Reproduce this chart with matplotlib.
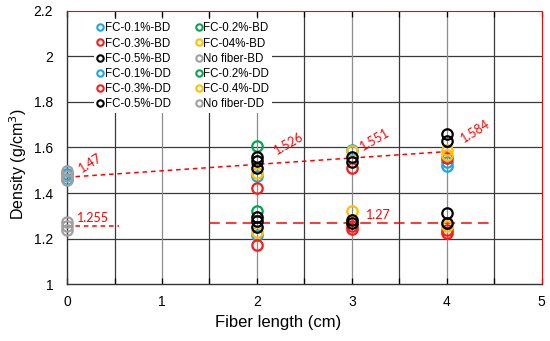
import numpy as np
import matplotlib.pyplot as plt
from matplotlib.lines import Line2D

# series: x positions (cm) and densities (g/cm3)
blue = '#1AA7E8'
green = '#00A651'
red = '#FF1A1A'
yellow = '#FFC000'
black = '#000000'
gray = '#A0A0A0'

# BD (upper group)
x_01_bd = [0, 0, 2, 3, 4, 4]
y_01_bd = [1.485, 1.46, 1.475, 1.59, 1.538, 1.519]
x_02_bd = [2]
y_02_bd = [1.605]
x_03_bd = [2, 3, 4]
y_03_bd = [1.424, 1.512, 1.552]
x_04_bd = [2, 3, 4, 4]
y_04_bd = [1.489, 1.584, 1.589, 1.567]
x_05_bd = [2, 2, 2, 3, 3, 4, 4]
y_05_bd = [1.557, 1.539, 1.508, 1.556, 1.536, 1.66, 1.627]
x_nf_bd = [0, 0, 0]
y_nf_bd = [1.495, 1.473, 1.455]

# DD (lower group)
x_01_dd = [2]
y_01_dd = [1.215]
x_02_dd = [2]
y_02_dd = [1.321]
x_03_dd = [2, 3, 3, 4, 4]
y_03_dd = [1.171, 1.24, 1.255, 1.237, 1.223]
x_04_dd = [2, 3, 4]
y_04_dd = [1.23, 1.32, 1.255]
x_05_dd = [2, 2, 2, 3, 3, 4, 4]
y_05_dd = [1.296, 1.275, 1.252, 1.281, 1.27, 1.314, 1.27]
x_nf_dd = [0, 0, 0]
y_nf_dd = [1.274, 1.255, 1.237]

# mean values shown on the chart
mean_x = [0, 2, 3, 4]
mean_bd = [1.47, 1.526, 1.551, 1.584]
nf_dd_mean = 1.255
fc_dd_mean = 1.27

fig = plt.figure(figsize=(5.5, 3.41), dpi=100)
ax = fig.add_axes([0.122, 0.167, 0.863, 0.801])

ax.set_xlim(0, 5)
ax.set_ylim(1, 2.2)

# grid
for yv in np.arange(1.2, 2.01, 0.2):
    ax.axhline(yv, color='#3a3a3a', lw=0.9, zorder=0)
for xv in [0.5, 1.5, 2.5, 3.5, 4.5]:
    ax.axvline(xv, color='#3a3a3a', lw=0.9, zorder=0)
for xv in [1, 2, 3, 4]:
    ax.axvline(xv, color='#8c8c8c', lw=0.9, zorder=0)

series = [
    (x_01_bd, y_01_bd, blue, 'FC-0.1%-BD'),
    (x_02_bd, y_02_bd, green, 'FC-0.2%-BD'),
    (x_03_bd, y_03_bd, red, 'FC-0.3%-BD'),
    (x_04_bd, y_04_bd, yellow, 'FC-04%-BD'),
    (x_05_bd, y_05_bd, black, 'FC-0.5%-BD'),
    (x_nf_bd, y_nf_bd, gray, 'No fiber-BD'),
    (x_01_dd, y_01_dd, blue, 'FC-0.1%-DD'),
    (x_02_dd, y_02_dd, green, 'FC-0.2%-DD'),
    (x_03_dd, y_03_dd, red, 'FC-0.3%-DD'),
    (x_04_dd, y_04_dd, yellow, 'FC-0.4%-DD'),
    (x_05_dd, y_05_dd, black, 'FC-0.5%-DD'),
    (x_nf_dd, y_nf_dd, gray, 'No fiber-DD'),
]

handles = {}
for xs, ys, c, lab in series:
    ax.plot(xs, ys, 'o', ms=7.5, mfc='none', mec=c, mew=1.6, clip_on=False, zorder=3)
    handles[lab] = Line2D([], [], marker='o', ls='none', ms=4.6, mfc='none', mec=c, mew=1.5)

# trend line through BD means
k, b = np.polyfit(mean_x, mean_bd, 1)
tx = np.array([0, 4])
ax.plot(tx, k * tx + b, color='red', ls=(0, (3, 2.5)), lw=1.1, zorder=2)

# DD mean lines
ax.plot([0, 0.55], [nf_dd_mean, nf_dd_mean], color='red', ls=(0, (3, 2.5)), lw=1.1, zorder=2)
ax.plot([1.5, 4.5], [fc_dd_mean, fc_dd_mean], color='red', ls=(0, (7, 4)), lw=1.1, zorder=2)

lab_font = dict(color='red', fontsize=9, family='Lato')
ax.text(0.1, 1.49, '1.47', rotation=32, **lab_font)
ax.text(2.16, 1.567, '1.526', rotation=30, **lab_font)
ax.text(3.06, 1.585, '1.551', rotation=30, **lab_font)
ax.text(4.13, 1.62, '1.584', rotation=32, **lab_font)
ax.text(0.1, 1.272, '1.255', **lab_font)
ax.text(3.15, 1.287, '1.27', **lab_font)

order = ['FC-0.1%-BD', 'FC-0.3%-BD', 'FC-0.5%-BD', 'FC-0.1%-DD', 'FC-0.3%-DD', 'FC-0.5%-DD',
         'FC-0.2%-BD', 'FC-04%-BD', 'No fiber-BD', 'FC-0.2%-DD', 'FC-0.4%-DD', 'No fiber-DD']
leg = ax.legend([handles[o] for o in order], order, ncol=2, loc='upper left',
                bbox_to_anchor=(0.045, 0.99), frameon=True, fancybox=False,
                framealpha=1, edgecolor='none', handlelength=0.45,
                handletextpad=0.2, columnspacing=2.2, labelspacing=0.28,
                borderpad=0.25, prop={'family': 'Liberation Sans', 'size': 8.3})
leg.set_zorder(5)

ax.set_xticks([0, 1, 2, 3, 4, 5])
ax.set_xticks(np.arange(0, 5.01, 0.5), minor=True)
ax.set_yticks(np.arange(1, 2.21, 0.2))
ax.set_yticklabels(['1', '1.2', '1.4', '1.6', '1.8', '2', '2.2'])
ax.tick_params(axis='x', which='both', direction='in', length=4, width=0.9, pad=8,
               labelsize=10, top=True)
ax.tick_params(axis='y', length=0, pad=10, labelsize=10)
for t in ax.get_xticklabels() + ax.get_yticklabels():
    t.set_family('Liberation Sans')

for s in ['top', 'right']:
    ax.spines[s].set_color('red')
    ax.spines[s].set_linestyle((0, (1, 1)))
    ax.spines[s].set_linewidth(0.8)
for s in ['left', 'bottom']:
    ax.spines[s].set_color('#333333')
    ax.spines[s].set_linewidth(1.0)

ax.set_xlabel('Fiber length (cm)', fontsize=12, family='Liberation Sans', labelpad=5)
ax.xaxis.set_label_coords(0.444, -0.115)
ax.set_ylabel('Density (g/cm$^3$)', fontsize=11.5, family='Liberation Sans')
ax.yaxis.set_label_coords(-0.08, 0.44)

fig.savefig('out.png', dpi=100)
